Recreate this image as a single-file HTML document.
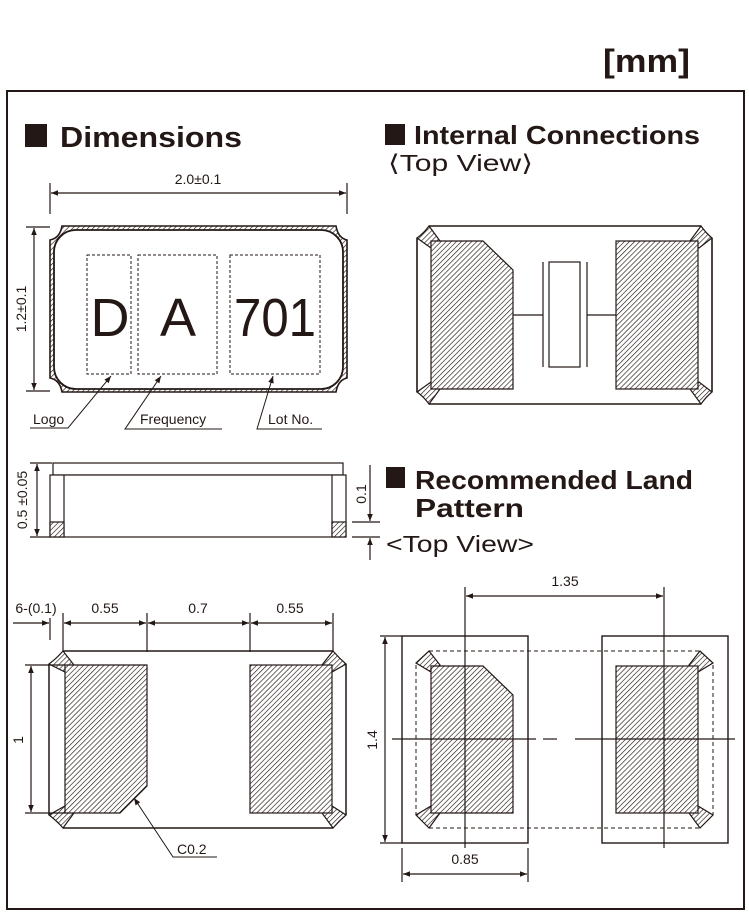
<!DOCTYPE html>
<html><head><meta charset="utf-8"><style>
html,body{margin:0;padding:0;background:#fff;}
svg{display:block;font-family:"Liberation Sans",sans-serif;}
</style></head><body>
<svg width="749" height="919" viewBox="0 0 749 919" xmlns="http://www.w3.org/2000/svg">
<defs>
<pattern id="h" patternUnits="userSpaceOnUse" width="3.6" height="3.6" patternTransform="rotate(45)">
<rect width="3.6" height="3.6" fill="#fff"/><line x1="0" y1="0" x2="0" y2="3.6" stroke="#231815" stroke-width="1.3"/>
</pattern>
<marker id="a" viewBox="0 0 10 10" refX="10" refY="5" markerWidth="9" markerHeight="7" orient="auto-start-reverse" markerUnits="userSpaceOnUse">
<path d="M0,1 L10,5 L0,9 Z" fill="#231815"/></marker>
</defs>
<g stroke="#231815" fill="none" stroke-width="1.2" font-size="14" >
<!-- header -->
<text x="603" y="72" font-size="32" font-weight="bold" fill="#231815" stroke="none" textLength="87" lengthAdjust="spacingAndGlyphs">[mm]</text>
<rect x="7" y="91" width="737" height="818" stroke-width="2"/>
<rect x="25" y="124" width="22" height="23" fill="#231815" stroke="none"/>
<text x="60" y="147" font-size="29" font-weight="bold" fill="#231815" stroke="none" textLength="182" lengthAdjust="spacingAndGlyphs">Dimensions</text>
<rect x="385" y="124" width="20" height="21" fill="#231815" stroke="none"/>
<text x="414" y="144" font-size="26" font-weight="bold" fill="#231815" stroke="none" textLength="286" lengthAdjust="spacingAndGlyphs">Internal Connections</text>
<text x="388" y="171" font-size="23" fill="#231815" stroke="none" textLength="145" lengthAdjust="spacingAndGlyphs">⟨Top View⟩</text>
<rect x="386" y="467" width="19" height="21" fill="#231815" stroke="none"/>
<text x="415" y="489" font-size="26" font-weight="bold" fill="#231815" stroke="none" textLength="278" lengthAdjust="spacingAndGlyphs">Recommended Land</text>
<text x="415" y="517" font-size="26" font-weight="bold" fill="#231815" stroke="none" textLength="109" lengthAdjust="spacingAndGlyphs">Pattern</text>
<text x="386" y="552" font-size="23" fill="#231815" stroke="none" textLength="148" lengthAdjust="spacingAndGlyphs">&lt;Top View&gt;</text>

<!-- Dimensions top view -->
<line x1="50" y1="183" x2="50" y2="214"/><line x1="347" y1="183" x2="347" y2="214"/>
<line x1="51" y1="193" x2="346" y2="193" marker-start="url(#a)" marker-end="url(#a)"/>
<text x="198" y="184" text-anchor="middle" fill="#231815" stroke="none">2.0±0.1</text>
<line x1="26" y1="227" x2="50" y2="227"/><line x1="26" y1="391" x2="50" y2="391"/>
<line x1="34" y1="228" x2="34" y2="390" marker-start="url(#a)" marker-end="url(#a)"/>
<text transform="translate(26,309) rotate(-90)" text-anchor="middle" fill="#231815" stroke="none">1.2±0.1</text>
<path d="M62,226 H336 Q338,238 347,240 V378 Q338,380 336,392 H62 Q60,380 50,378 V240 Q60,238 62,226 Z" fill="url(#h)" stroke-width="1.6"/>
<rect x="54" y="230" width="289" height="159" rx="22" fill="#fff" stroke-width="1.8"/>
<g stroke-dasharray="3,2" stroke-width="1">
<rect x="87" y="255" width="44" height="119"/><rect x="138" y="255" width="79" height="119"/><rect x="230" y="255" width="90" height="119"/>
</g>
<g font-size="54" fill="#231815" stroke="none" text-anchor="middle">
<text x="110" y="336">D</text><text x="178" y="336">A</text><text x="275" y="336" textLength="82" lengthAdjust="spacingAndGlyphs">701</text></g>
<polyline points="30,428 68,428 111,376" marker-end="url(#a)" stroke-width="1"/>
<polyline points="222,429 125,429 161,376" marker-end="url(#a)" stroke-width="1"/>
<polyline points="322,429 257,429 273,376" marker-end="url(#a)" stroke-width="1"/>
<g fill="#231815" stroke="none">
<text x="33" y="424">Logo</text><text x="140" y="424">Frequency</text><text x="268" y="424">Lot No.</text></g>

<!-- side view -->
<rect x="53" y="463" width="290" height="12"/>
<rect x="50" y="475" width="296" height="62" fill="#fff"/>
<line x1="64" y1="475" x2="64" y2="537"/><line x1="332" y1="475" x2="332" y2="537"/>
<rect x="50" y="522" width="14" height="15" fill="url(#h)"/><rect x="332" y="522" width="14" height="15" fill="url(#h)"/>
<line x1="30" y1="463" x2="52" y2="463"/><line x1="30" y1="537" x2="50" y2="537"/>
<line x1="37" y1="464" x2="37" y2="536" marker-start="url(#a)" marker-end="url(#a)"/>
<text transform="translate(27,500) rotate(-90)" text-anchor="middle" fill="#231815" stroke="none">0.5 ±0.05</text>
<line x1="352" y1="522" x2="380" y2="522"/><line x1="352" y1="537" x2="380" y2="537"/>
<line x1="370" y1="465" x2="370" y2="521" marker-end="url(#a)"/>
<line x1="370" y1="560" x2="370" y2="538" marker-end="url(#a)"/>
<text transform="translate(366,494) rotate(-90)" text-anchor="middle" fill="#231815" stroke="none">0.1</text>

<!-- bottom view -->
<line x1="50" y1="618" x2="50" y2="640"/><line x1="63" y1="613" x2="63" y2="652"/><line x1="147" y1="613" x2="147" y2="652"/><line x1="250" y1="613" x2="250" y2="652"/><line x1="333" y1="613" x2="333" y2="652"/>
<line x1="13" y1="623" x2="49" y2="623" marker-end="url(#a)"/>
<line x1="64" y1="623" x2="146" y2="623" marker-start="url(#a)" marker-end="url(#a)"/>
<line x1="148" y1="623" x2="249" y2="623" marker-start="url(#a)" marker-end="url(#a)"/>
<line x1="251" y1="623" x2="332" y2="623" marker-start="url(#a)" marker-end="url(#a)"/>
<g fill="#231815" stroke="none" text-anchor="middle">
<text x="36" y="613">6-(0.1)</text><text x="105" y="613">0.55</text><text x="198" y="613">0.7</text><text x="290" y="613">0.55</text></g>
<line x1="63" y1="651" x2="333" y2="651" stroke-width="1.5"/><line x1="63" y1="828" x2="333" y2="828" stroke-width="1.5"/>
<line x1="49" y1="664" x2="49" y2="815" stroke-width="1.5"/><line x1="346" y1="664" x2="346" y2="815" stroke-width="1.5"/>
<g fill="url(#h)" stroke-width="1.2">
<path d="M63,651 L74,665 L65,672 L49,664 Q57,658 63,651Z"/>
<path d="M333,651 L322,665 L332,672 L346,664 Q339,658 333,651Z"/>
<path d="M63,828 L74,813 L65,806 L49,815 Q57,821 63,828Z"/>
<path d="M333,828 L322,813 L332,806 L346,815 Q339,821 333,828Z"/>
<path d="M65,665 H147 V786 L120,813 H65 Z"/>
<rect x="250" y="665" width="82" height="148"/>
</g>
<line x1="25" y1="665" x2="65" y2="665"/><line x1="25" y1="813" x2="65" y2="813"/>
<line x1="31" y1="666" x2="31" y2="812" marker-start="url(#a)" marker-end="url(#a)"/>
<text transform="translate(23,740) rotate(-90)" text-anchor="middle" fill="#231815" stroke="none">1</text>
<polyline points="217,857 173,857 134,798" marker-end="url(#a)" stroke-width="1"/>
<text x="177" y="854" fill="#231815" stroke="none">C0.2</text>

<!-- internal connections -->
<line x1="429" y1="226" x2="701" y2="226" stroke-width="1.6"/><line x1="429" y1="404" x2="701" y2="404" stroke-width="1.6"/>
<line x1="417" y1="238" x2="417" y2="392" stroke-width="1.6"/><line x1="712" y1="238" x2="712" y2="392" stroke-width="1.6"/>
<g fill="url(#h)">
<path d="M429,226 L440,241 L431,248 L417,238 Q424,233 429,226Z"/>
<path d="M701,226 L690,241 L699,248 L712,238 Q706,233 701,226Z"/>
<path d="M429,404 L440,389 L431,382 L417,392 Q424,397 429,404Z"/>
<path d="M701,404 L690,389 L699,382 L712,392 Q706,397 701,404Z"/>
<path d="M431,241 H483 L513,270 V389 H431 Z"/>
<rect x="616" y="241" width="82" height="148"/>
</g>
<rect x="549" y="262" width="31" height="105"/>
<line x1="543" y1="262" x2="543" y2="367"/><line x1="587" y1="262" x2="587" y2="367"/>
<line x1="513" y1="315" x2="543" y2="315"/><line x1="587" y1="315" x2="616" y2="315"/>

<!-- land pattern -->
<rect x="402" y="636" width="126" height="207" stroke-width="1.4"/>
<rect x="602" y="636" width="126" height="207" stroke-width="1.4"/>
<g stroke-dasharray="4,3" stroke-width="1">
<line x1="429" y1="651" x2="700" y2="651"/><line x1="429" y1="828" x2="700" y2="828"/>
<line x1="416" y1="665" x2="416" y2="815"/><line x1="713" y1="665" x2="713" y2="815"/>
</g>
<g fill="url(#h)">
<path d="M429,651 L440,665 L431,672 L416,663Z"/>
<path d="M700,651 L689,665 L698,672 L713,663Z"/>
<path d="M429,828 L440,813 L431,806 L416,815Z"/>
<path d="M700,828 L689,813 L698,806 L713,815Z"/>
<path d="M431,666 H483 L513,695 V813 H431 Z"/>
<rect x="616" y="666" width="82" height="147"/>
</g>
<line x1="465" y1="587" x2="465" y2="848"/><line x1="664" y1="587" x2="664" y2="848"/>
<line x1="392" y1="739" x2="536" y2="739"/><line x1="543" y1="739" x2="557" y2="739"/><line x1="575" y1="739" x2="735" y2="739"/>
<line x1="466" y1="596" x2="663" y2="596" marker-start="url(#a)" marker-end="url(#a)"/>
<text x="565" y="586" text-anchor="middle" fill="#231815" stroke="none">1.35</text>
<line x1="380" y1="636" x2="402" y2="636"/><line x1="380" y1="843" x2="402" y2="843"/>
<line x1="385" y1="637" x2="385" y2="842" marker-start="url(#a)" marker-end="url(#a)"/>
<text transform="translate(377,740) rotate(-90)" text-anchor="middle" fill="#231815" stroke="none">1.4</text>
<line x1="402" y1="848" x2="402" y2="882"/><line x1="528" y1="848" x2="528" y2="882"/>
<line x1="403" y1="874" x2="527" y2="874" marker-start="url(#a)" marker-end="url(#a)"/>
<text x="465" y="864" text-anchor="middle" fill="#231815" stroke="none">0.85</text>
</g>
</svg>
</body></html>
